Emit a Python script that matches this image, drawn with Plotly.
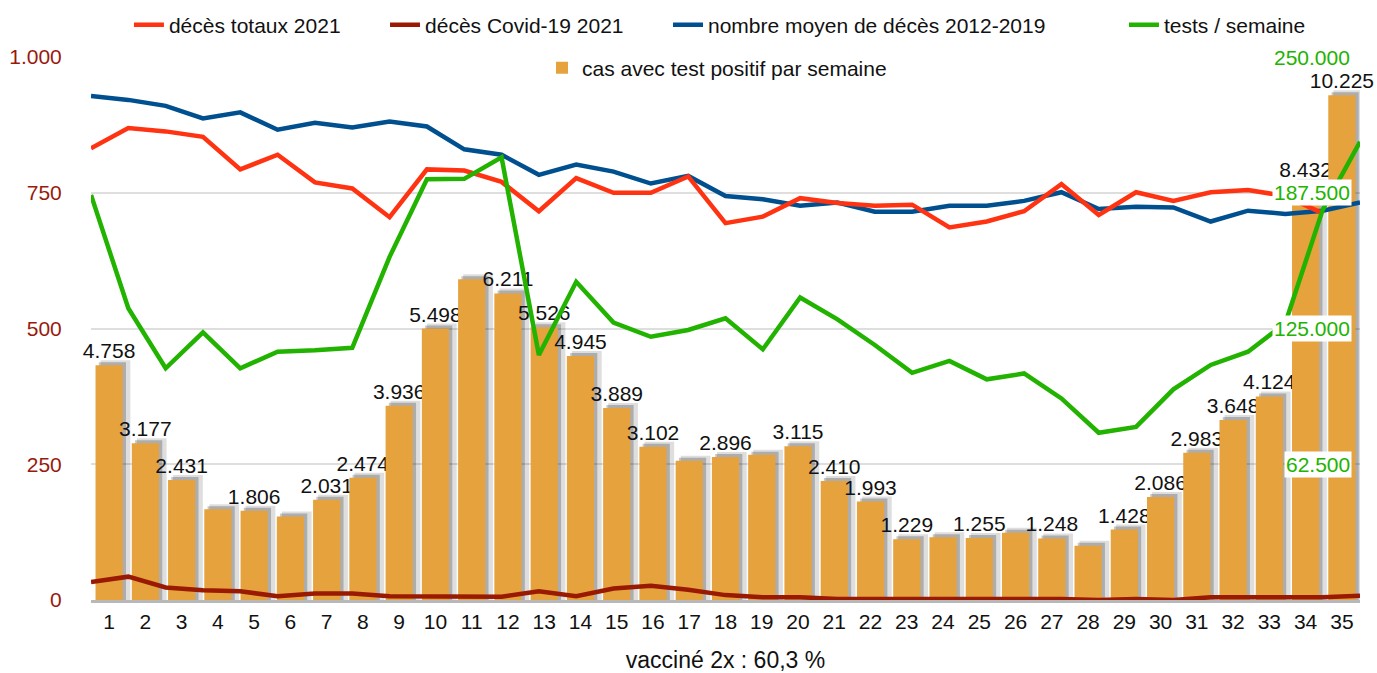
import plotly.graph_objects as go

# ---------------- data ----------------
weeks = [1, 2, 3, 4, 5, 6, 7, 8, 9, 10, 11, 12, 13, 14, 15, 16, 17, 18,
         19, 20, 21, 22, 23, 24, 25, 26, 27, 28, 29, 30, 31, 32, 33, 34, 35]

positive_cases = [4758, 3177, 2431, 1840, 1806, 1690, 2031, 2474, 3936, 5498,
                  6500, 6211, 5526, 4945, 3889, 3102, 2820, 2896, 2940, 3115,
                  2410, 1993, 1229, 1270, 1255, 1360, 1248, 1100, 1428, 2086,
                  2983, 3648, 4124, 8432, 10225]
unlabelled_weeks = [4, 6, 11, 17, 19, 24, 26, 28]

total_deaths_2021 = [832, 869, 863, 853, 793, 820, 769, 758, 705, 793,
                     791, 770, 716, 777, 750, 750, 780, 694, 706, 740,
                     731, 726, 728, 686, 697, 716, 766, 709, 751, 735,
                     751, 755, 744, 712]
weeks_total_deaths = weeks[:len(total_deaths_2021)]

covid_deaths_2021 = [33, 43, 23, 18, 16, 7, 12, 12, 7, 6,
                     6, 6, 16, 7, 21, 26, 19, 9, 5, 5,
                     2, 2, 3, 1, 2, 2, 2, 0, 2, 0,
                     5, 5, 5, 5, 8]

avg_deaths_2012_2019 = [928, 921, 910, 887, 898, 866, 879, 870, 881, 872,
                        830, 820, 783, 802, 789, 767, 781, 744, 738, 726,
                        732, 715, 715, 726, 726, 735, 751, 720, 724, 723,
                        697, 717, 711, 717, 732]

tests_per_week = [186500, 134300, 106700, 123200, 106700, 114300, 115000, 116100, 158000, 193700,
                  193900, 203800, 112800, 146500, 127700, 121200, 124300, 129700, 115400, 139300,
                  129200, 117400, 104600, 110100, 101600, 104300, 92800, 77000, 79700, 97000,
                  108200, 114300, 127500, 179600, 211000]

deaths_ticks = [0, 250, 500, 750, 1000]
tests_ticks = [62500, 125000, 187500, 250000]

names = ["décès totaux 2021", "décès Covid-19 2021",
         "nombre moyen de décès 2012-2019", "tests / semaine",
         "cas avec test positif par semaine"]
x_title = "vacciné 2x : 60,3 %"

# ---------------- styling ----------------
FONT = "Liberation Sans, Arial, sans-serif"
FS = 21
C_RED = "#ff3311"
C_DARKRED = "#991a00"
C_BLUE = "#004f8f"
C_GREEN = "#22b300"
C_BAR = "#e6a23c"
C_LEFT = "#991a0d"
LW = 4.5

DEATHS_MAX = 1000
CASES_MAX = 11000
TESTS_MAX = 250000


def fmt(v):
    return f"{v:,}".replace(",", ".")


bar_text = ["" if w in unlabelled_weeks else fmt(v) for w, v in zip(weeks, positive_cases)]

fig = go.Figure()

# bar shadows (soft, two layers)
px_per_case = CASES_MAX / 543.0
fig.add_trace(go.Bar(x=weeks, y=[v + 5 * px_per_case for v in positive_cases],
                     width=0.82, offset=-0.375 + 0.14,
                     marker=dict(color="rgba(0,0,0,0.13)", line=dict(width=0)),
                     showlegend=False, hoverinfo="skip", xaxis="x", yaxis="y"))
fig.add_trace(go.Bar(x=weeks, y=[v + 3 * px_per_case for v in positive_cases],
                     width=0.75, offset=-0.375 + 0.09,
                     marker=dict(color="rgba(0,0,0,0.22)", line=dict(width=0)),
                     showlegend=False, hoverinfo="skip", xaxis="x", yaxis="y"))
# bars
fig.add_trace(go.Bar(x=weeks, y=positive_cases, width=0.75, offset=-0.375,
                     name=names[4], legend="legend5",
                     marker=dict(color=C_BAR, line=dict(width=0)),
                     text=bar_text, textposition="outside", constraintext="none",
                     cliponaxis=False,
                     textfont=dict(family=FONT, size=FS, color="#111111"),
                     xaxis="x", yaxis="y"))

# lines
fig.add_trace(go.Scatter(x=weeks, y=covid_deaths_2021, mode="lines", name=names[1],
                         legend="legend2", line=dict(color=C_DARKRED, width=LW),
                         xaxis="x2", yaxis="y2", cliponaxis=False))
fig.add_trace(go.Scatter(x=weeks, y=avg_deaths_2012_2019, mode="lines", name=names[2],
                         legend="legend3", line=dict(color=C_BLUE, width=LW),
                         xaxis="x2", yaxis="y2", cliponaxis=False))
fig.add_trace(go.Scatter(x=weeks_total_deaths, y=total_deaths_2021, mode="lines", name=names[0],
                         legend="legend", line=dict(color=C_RED, width=LW),
                         xaxis="x2", yaxis="y2", cliponaxis=False))
fig.add_trace(go.Scatter(x=weeks, y=tests_per_week, mode="lines", name=names[3],
                         legend="legend4", line=dict(color=C_GREEN, width=LW),
                         xaxis="x2", yaxis="y3", cliponaxis=False))

# right axis labels (tests) with white background
annotations = []
for t in tests_ticks:
    annotations.append(dict(x=0.9937, xref="paper", xanchor="right",
                            y=t, yref="y3", yanchor="middle",
                            text=fmt(t), showarrow=False,
                            font=dict(family=FONT, size=FS, color=C_GREEN),
                            bgcolor="white", borderpad=1))


def leg(x, y):
    return dict(orientation="h", x=x, y=y, xanchor="left", yanchor="middle",
                xref="paper", yref="paper", bgcolor="rgba(0,0,0,0)",
                font=dict(family=FONT, size=FS, color="#111111"),
                itemclick=False, itemdoubleclick=False)


fig.update_layout(
    width=1377, height=673,
    margin=dict(l=91, r=17, t=57, b=73, pad=0, autoexpand=False),
    paper_bgcolor="white", plot_bgcolor="white",
    separators=",.",
    barmode="overlay",
    font=dict(family=FONT, size=FS, color="#111111"),
    showlegend=True,
    hovermode=False,
    legend=leg(0.0299, 1.0589),
    legend2=leg(0.2317, 1.0589),
    legend3=leg(0.4547, 1.0589),
    legend4=leg(0.8140, 1.0589),
    legend5=leg(0.3554, 0.9797),
    annotations=annotations,
    xaxis=dict(range=[0.5, 35.5], tickmode="array", tickvals=weeks,
               ticktext=[str(w) for w in weeks],
               tickfont=dict(family=FONT, size=FS, color="#111111"),
               ticks="outside", ticklen=1, tickcolor="rgba(0,0,0,0)",
               showgrid=False, zeroline=False,
               showline=True, linecolor="#b8b8b8", linewidth=3,
               automargin=False,
               title=dict(text=x_title, standoff=27,
                          font=dict(family=FONT, size=23, color="#111111"))),
    yaxis=dict(range=[0, CASES_MAX], showticklabels=False, ticks="",
               tickmode="array",
               tickvals=[d * CASES_MAX / DEATHS_MAX for d in deaths_ticks],
               showgrid=True, gridcolor="#dedede", gridwidth=1.5,
               zeroline=False, showline=False, automargin=False),
    xaxis2=dict(range=[1, 35], overlaying="x", visible=False),
    yaxis2=dict(range=[0, DEATHS_MAX], overlaying="y", side="left",
                tickmode="array", tickvals=deaths_ticks, tickformat=",d",
                tickfont=dict(family=FONT, size=FS, color=C_LEFT),
                ticks="outside", ticklen=24, tickcolor="rgba(0,0,0,0)",
                showgrid=False, zeroline=False, showline=False, automargin=False),
    yaxis3=dict(range=[0, TESTS_MAX], overlaying="y", side="right",
                visible=False),
)

fig.write_html("out.html",
               config={"displayModeBar": False, "staticPlot": False},
               post_script="document.body.style.margin='0';"
                           "document.body.style.overflow='hidden';")
